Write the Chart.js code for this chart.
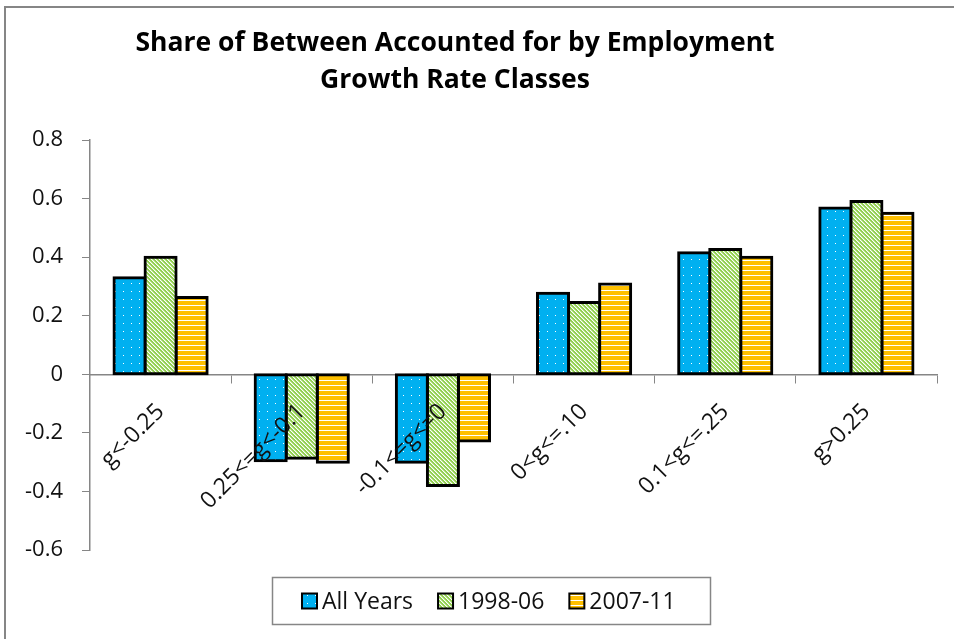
<!DOCTYPE html>
<html>
<head>
<meta charset="utf-8">
<title>Share of Between by Employment Growth Rate Classes</title>
<script src="https://cdn.jsdelivr.net/npm/chart.js@4.4.1/dist/chart.umd.min.js"></script>
<style>
  html, body { margin: 0; padding: 0; background: #fff; }
  #wrap { width: 954px; height: 639px; }
</style>
</head>
<body>
<div id="wrap"><canvas id="shareChart"></canvas></div>
<script>
// growth rate classes and the share of "between" each accounts for
const categories = ['g<-0.25', '0.25<=g<-0.1', '-0.1<=g<=0', '0<g<=.10', '0.1<g<=.25', 'g>0.25'];
const allYears  = [0.33, -0.295, -0.30, 0.277, 0.415, 0.568];
const years9806 = [0.40, -0.287, -0.38, 0.245, 0.426, 0.59];
const years0711 = [0.262, -0.30, -0.228, 0.308, 0.40, 0.55];
const seriesLabels = ['All Years', '1998-06', '2007-11'];
const yTicks = [0.8, 0.6, 0.4, 0.2, 0, -0.2, -0.4, -0.6];
const titleLines = ['Share of Between Accounted for by Employment', 'Growth Rate Classes'];

const FONT = '"Open Sans", "DejaVu Sans", sans-serif';
const AXIS_GREY = '#868686';

// small repeating fills like the office chart patterns
function makePattern(w, h, bg, paint) {
  const c = document.createElement('canvas');
  c.width = w; c.height = h;
  const g = c.getContext('2d');
  g.fillStyle = bg;
  g.fillRect(0, 0, w, h);
  g.fillStyle = '#ffffff';
  paint(g);
  return g.createPattern(c, 'repeat');
}
const dotted = makePattern(8, 8, '#00B0F0', g => { g.fillRect(3, 3, 1, 1); });
const diagonal = makePattern(4, 4, '#92D050', g => {
  for (let i = 0; i < 4; i++) g.fillRect(i, i, 1, 1);
  g.globalAlpha = 0.45;
  for (let i = 0; i < 4; i++) g.fillRect((i + 1) % 4, i, 1, 1);
});
const striped = makePattern(5, 5, '#FFC000', g => { g.fillRect(0, 0, 5, 1); });
const fills = [dotted, diagonal, striped];

// frame, two-line title and boxed legend
const decorations = {
  id: 'decorations',
  beforeDraw(chart) {
    const ctx = chart.ctx;
    ctx.save();
    ctx.fillStyle = '#fff';
    ctx.fillRect(0, 0, chart.width, chart.height);
    ctx.strokeStyle = AXIS_GREY;
    ctx.lineWidth = 2;
    ctx.beginPath();
    ctx.moveTo(5, chart.height + 5);
    ctx.lineTo(5, 7);
    ctx.lineTo(chart.width + 5, 7);
    ctx.stroke();
    ctx.restore();
  },
  afterDraw(chart) {
    const ctx = chart.ctx;
    ctx.save();
    ctx.fillStyle = '#000';
    ctx.font = 'bold 26.5px ' + FONT;
    ctx.textAlign = 'center';
    ctx.textBaseline = 'alphabetic';
    ctx.fillText(titleLines[0], 455, 51);
    ctx.fillText(titleLines[1], 455, 88);

    // legend
    ctx.font = '23px ' + FONT;
    const box = 15, gap = 5, spacing = 25;
    const items = chart.data.datasets.map(ds => ({
      label: ds.label, fill: ds.backgroundColor, w: box + gap + ctx.measureText(ds.label).width
    }));
    const total = items.reduce((s, it) => s + it.w, 0) + spacing * (items.length - 1);
    const cy = 601;
    let x = Math.round(489 - total / 2);
    ctx.strokeStyle = AXIS_GREY;
    ctx.lineWidth = 1.5;
    ctx.strokeRect(x - 30 + 0.5, 577.5, Math.round(total + 64), 47);
    ctx.textAlign = 'left';
    ctx.textBaseline = 'middle';
    items.forEach(it => {
      ctx.fillStyle = it.fill;
      ctx.fillRect(x, cy - box / 2, box, box);
      ctx.strokeStyle = '#000';
      ctx.lineWidth = 2;
      ctx.strokeRect(x, cy - box / 2, box, box);
      ctx.fillStyle = '#111';
      ctx.fillText(it.label, x + box + gap, cy + 1);
      x += it.w + spacing;
    });
    ctx.restore();
  }
};

const seriesData = [allYears, years9806, years0711];
const ctx = document.getElementById('shareChart').getContext('2d');
new Chart(ctx, {
  type: 'bar',
  data: {
    labels: categories,
    datasets: seriesData.map((values, i) => ({
      label: seriesLabels[i],
      data: values,
      backgroundColor: fills[i],
      borderColor: '#000',
      borderWidth: 3,
      borderSkipped: false,
      inflateAmount: 1.5,
      categoryPercentage: 0.66,
      barPercentage: 1
    }))
  },
  options: {
    responsive: true,
    maintainAspectRatio: false,
    animation: false,
    events: [],
    layout: { padding: { top: 140, right: 17, bottom: 89, left: 0 } },
    plugins: {
      legend: { display: false },
      title: { display: false },
      tooltip: { enabled: false }
    },
    scales: {
      x: {
        position: { y: 0 },
        afterFit: s => { s.height = 91; },
        grid: {
          offset: true,
          drawOnChartArea: false,
          drawTicks: true,
          tickLength: 8,
          color: AXIS_GREY
        },
        border: { display: true, color: AXIS_GREY, width: 1.5 },
        ticks: {
          z: 1,
          autoSkip: false,
          minRotation: 45,
          maxRotation: 45,
          padding: 16,
          color: '#111',
          font: { family: FONT, size: 23 }
        }
      },
      y: {
        min: -0.6,
        max: 0.8,
        afterFit: s => { s.width = 90; },
        afterBuildTicks: s => { s.ticks = yTicks.map(v => ({ value: v })); },
        grid: {
          drawOnChartArea: false,
          drawTicks: true,
          tickLength: 8,
          color: AXIS_GREY
        },
        border: { display: true, color: AXIS_GREY, width: 1.5 },
        ticks: {
          padding: 19,
          color: '#111',
          font: { family: FONT, size: 22 },
          callback: v => (v === 0 ? '0' : v.toFixed(1))
        }
      }
    }
  },
  plugins: [decorations]
});
</script>
</body>
</html>
